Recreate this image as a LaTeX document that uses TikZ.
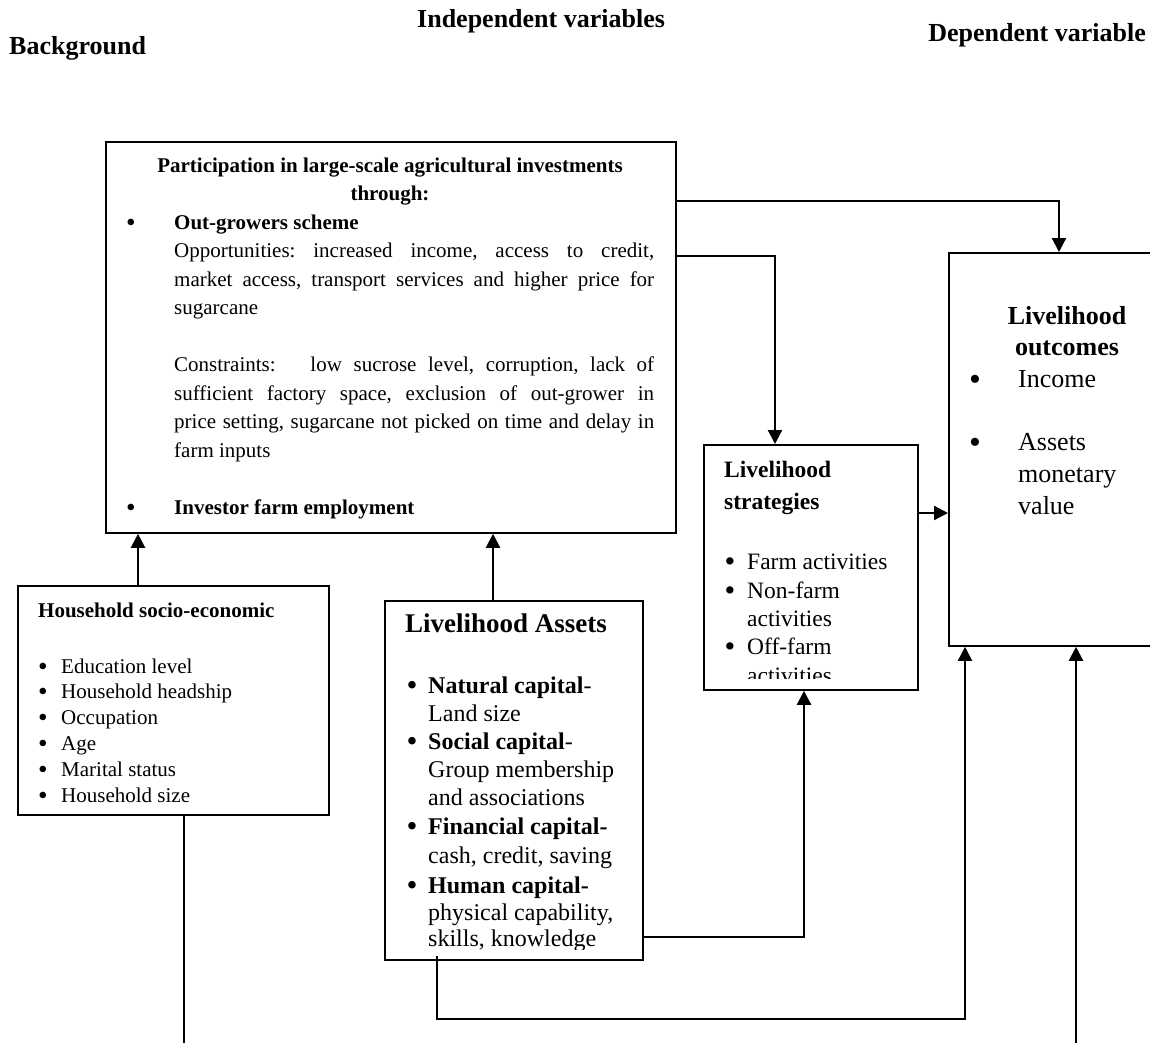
\documentclass[tikz,border=0pt]{standalone}
\usepackage{fontspec}
\setmainfont{Liberation Serif}
\usetikzlibrary{arrows.meta}
\frenchspacing
\newcommand{\bul}{\raisebox{-0.11em}[0.5em][0pt]{\scalebox{1.3}{•}}}
\tikzset{
  box/.style={draw, line width=1.8pt, rectangle, inner sep=0pt, anchor=north west},
  arr/.style={line width=2.2pt, -{Triangle[length=14pt,width=14pt]}},
  thinarr/.style={line width=1.8pt, -{Triangle[length=14pt,width=14pt]}},
  conn/.style={line width=1.8pt},
  hdr/.style={font=\fontsize{26}{30}\selectfont\bfseries, inner sep=0pt, yshift=-5pt},
  tt/.style={font=\fontsize{21}{26}\selectfont, inner sep=0pt, anchor=mid west, yshift=-5pt},
  ht/.style={font=\fontsize{21}{26}\selectfont, inner sep=0pt, anchor=mid west, yshift=-5pt},
  astxt/.style={font=\fontsize{24}{28}\selectfont, inner sep=0pt, anchor=mid west, yshift=-5pt},
  sttxt/.style={font=\fontsize{23.5}{28}\selectfont, inner sep=0pt, anchor=mid west, yshift=-5pt},
  ottxt/.style={font=\fontsize{26}{30}\selectfont, inner sep=0pt, anchor=mid west, yshift=-5pt},
}
\begin{document}
\begin{tikzpicture}[x=1pt, y=-1pt]
\clip (0,0) rectangle (1150,1043);
\fill[white] (0,0) rectangle (1150,1043);

% headers
\node[hdr, anchor=mid west] (hBack) at (9,47) {Background};
\node[hdr, anchor=mid west] (hInd) at (417,20) {Independent variables};
\node[hdr, anchor=mid east] (hDep) at (1146,34) {Dependent variable};

% boxes
\node[box, minimum width=570pt, minimum height=391pt] (top) at (105,141) {};
\node[box, minimum width=311pt, minimum height=229pt] (hh) at (17,585) {};
\node[box, minimum width=258pt, minimum height=359pt] (assets) at (384,600) {};
\node[box, minimum width=214pt, minimum height=245pt] (strat) at (703,444) {};
\node[box, minimum width=260pt, minimum height=393pt] (outc) at (948,252) {};

% top box text
\node[tt, anchor=mid] (tA) at (390,165) {\bfseries Participation in large-scale agricultural investments};
\node[tt, anchor=mid] (tB) at (390,193) {\bfseries through:};
\node[tt, anchor=mid] (tb1) at (131,222) {\bul};
\node[tt] (t1) at (174,222) {\bfseries Out-growers scheme};
\node[tt] (t2) at (174,250) {\makebox[480pt][s]{Opportunities: increased income, access to credit,}};
\node[tt] (t3) at (174,279) {\makebox[480pt][s]{market access, transport services and higher price for}};
\node[tt] (t4) at (174,307) {sugarcane};
\node[tt] (t5) at (174,364) {\makebox[480pt][s]{Constraints:\ \ \ low sucrose level, corruption, lack of}};
\node[tt] (t6) at (174,393) {\makebox[480pt][s]{sufficient factory space, exclusion of out-grower in}};
\node[tt] (t7) at (174,421) {\makebox[480pt][s]{price setting, sugarcane not picked on time and delay in}};
\node[tt] (t8) at (174,450) {farm inputs};
\node[tt, anchor=mid] (tb2) at (131,507) {\bul};
\node[tt] (t9) at (174,507) {\bfseries Investor farm employment};

% household text
\node[ht] (h0) at (38,610) {\bfseries Household socio-economic};
\node[ht, anchor=mid] (hb1) at (43,666) {\bul};
\node[ht] (h1) at (61,666) {Education level};
\node[ht, anchor=mid] (hb2) at (43,691) {\bul};
\node[ht] (h2) at (61,691) {Household headship};
\node[ht, anchor=mid] (hb3) at (43,717) {\bul};
\node[ht] (h3) at (61,717) {Occupation};
\node[ht, anchor=mid] (hb4) at (43,743) {\bul};
\node[ht] (h4) at (61,743) {Age};
\node[ht, anchor=mid] (hb5) at (43,769) {\bul};
\node[ht] (h5) at (61,769) {Marital status};
\node[ht, anchor=mid] (hb6) at (43,795) {\bul};
\node[ht] (h6) at (61,795) {Household size};

% assets text
\begin{scope}
\clip (384,600) rectangle (642,949);
\node[astxt, font=\fontsize{27}{30}\selectfont\bfseries] (a0) at (405,625) {Livelihood Assets};
\node[astxt, anchor=mid] (ab1) at (412,686) {\bul};
\node[astxt] (a1) at (428,686) {\textbf{Natural capital}-};
\node[astxt] (a2) at (428,714) {Land size};
\node[astxt, anchor=mid] (ab2) at (412,742) {\bul};
\node[astxt] (a3) at (428,742) {\textbf{Social capital}-};
\node[astxt] (a4) at (428,770) {Group membership};
\node[astxt] (a5) at (428,798) {and associations};
\node[astxt, anchor=mid] (ab3) at (412,827) {\bul};
\node[astxt] (a6) at (428,827) {\textbf{Financial capital-}};
\node[astxt] (a7) at (428,856) {cash, credit, saving};
\node[astxt, anchor=mid] (ab4) at (412,886) {\bul};
\node[astxt] (a8) at (428,886) {\textbf{Human capital-}};
\node[astxt] (a9) at (428,913) {physical capability,};
\node[astxt] (a10) at (428,939) {skills, knowledge};
\end{scope}

% strategies text
\begin{scope}
\clip (703,444) rectangle (917,678);
\node[sttxt] (s0) at (724,470) {\bfseries Livelihood};
\node[sttxt] (s0b) at (724,502) {\bfseries strategies};
\node[sttxt, anchor=mid] (sb1) at (730,562) {\bul};
\node[sttxt] (s1) at (747,562) {Farm activities};
\node[sttxt, anchor=mid] (sb2) at (730,591) {\bul};
\node[sttxt] (s2) at (747,591) {Non-farm};
\node[sttxt] (s3) at (747,619) {activities};
\node[sttxt, anchor=mid] (sb3) at (730,647) {\bul};
\node[sttxt] (s4) at (747,647) {Off-farm};
\node[sttxt] (s5) at (747,676) {activities};
\end{scope}

% outcomes text
\node[ottxt, anchor=mid, font=\fontsize{26}{30}\selectfont\bfseries] (o0) at (1067,317) {Livelihood};
\node[ottxt, anchor=mid, font=\fontsize{26}{30}\selectfont\bfseries] (o0b) at (1067,348) {outcomes};
\node[ottxt, anchor=mid] (ob1) at (975,380) {\bul};
\node[ottxt] (o1) at (1018,380) {Income};
\node[ottxt, anchor=mid] (ob2) at (975,443) {\bul};
\node[ottxt] (o2) at (1018,443) {Assets};
\node[ottxt] (o3) at (1018,475) {monetary};
\node[ottxt] (o4) at (1018,507) {value};

% connectors
\coordinate (ca) at ([xshift=121pt]hh.north west);
\draw[arr] (ca) -- (ca |- top.south);
\coordinate (cb) at ([xshift=109pt]assets.north west);
\draw[arr] (cb) -- (cb |- top.south);
\draw[arr] ([yshift=-60pt]top.north east) -| ([xshift=111pt]outc.north west);
\draw[arr] ([yshift=-115pt]top.north east) -| ([xshift=72pt]strat.north west);
\coordinate (ce) at ([yshift=-69pt]strat.north east);
\draw[arr] (ce) -- (ce -| outc.west);
\coordinate (cf) at ([yshift=24pt]assets.south east);
\draw[arr] (cf) -| ([xshift=101pt]strat.south west);
\coordinate (cg) at ([xshift=53pt,yshift=5pt]assets.south west);
\draw[thinarr] (cg) -- ++(0,63) -| ([xshift=17pt]outc.south west);
\draw[conn] ([xshift=167pt]hh.south west) -- ++(0,240);
\coordinate (ci) at (1076,1050);
\draw[arr] (ci) -- (ci |- outc.south);
\end{tikzpicture}
\end{document}
